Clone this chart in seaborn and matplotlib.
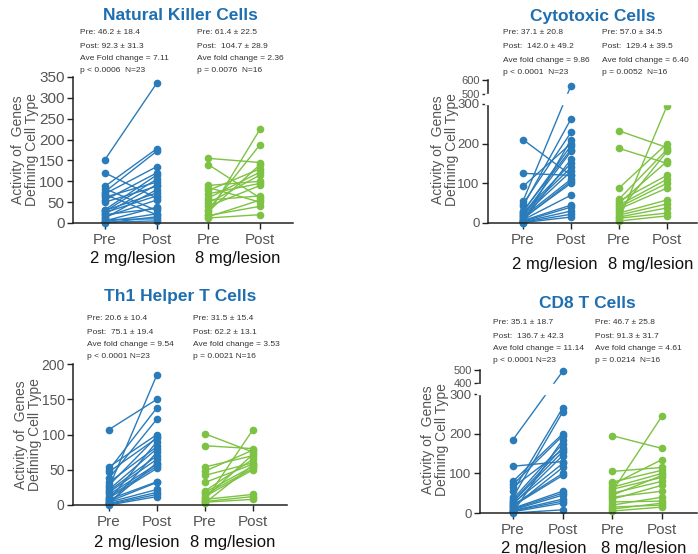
import numpy as np
import pandas as pd
import seaborn as sns
import matplotlib.pyplot as plt

sns.set_theme(style="white")
plt.rcParams['font.family'] = ['Liberation Sans', 'DejaVu Sans']

W, H = 698, 554
BLUE = "#2a7bba"
GREEN = "#7dc242"
TITLE_BLUE = "#1f6fb0"

# ---- data, 2 mg/lesion N=23, 8 mg/lesion N=16 ----
nk_pre2 = [152, 120, 88, 82, 75, 70, 68, 62, 55, 50, 32, 30, 28, 25, 22, 20, 15, 12, 8, 5, 3, 2, 0]
nk_post2 = [335, 60, 178, 30, 172, 135, 20, 98, 120, 88, 115, 72, 105, 65, 92, 35, 55, 80, 10, 38, 22, 5, 15]
nk_pre8 = [155, 140, 90, 85, 78, 70, 60, 55, 48, 40, 32, 28, 22, 18, 15, 12]
nk_post8 = [145, 60, 100, 50, 130, 95, 122, 65, 115, 90, 188, 140, 225, 40, 55, 20]

cy_pre2 = [210, 125, 92, 48, 42, 55, 30, 28, 25, 22, 20, 18, 15, 12, 10, 8, 6, 5, 4, 3, 2, 1, 0]
cy_post2 = [120, 120, 200, 228, 262, 560, 185, 195, 150, 140, 180, 130, 110, 100, 105, 70, 45, 160, 40, 30, 22, 15, 210]
cy_pre8 = [232, 188, 88, 60, 55, 50, 45, 40, 35, 30, 25, 20, 15, 12, 8, 5]
cy_post8 = [190, 150, 200, 185, 120, 155, 110, 100, 88, 180, 58, 48, 38, 25, 295, 18]

th_pre2 = [107, 54, 50, 47, 38, 32, 28, 25, 22, 20, 18, 15, 12, 10, 8, 7, 5, 4, 3, 2, 1, 1, 0]
th_post2 = [150, 100, 138, 95, 122, 83, 97, 185, 80, 70, 65, 58, 55, 52, 33, 90, 32, 22, 60, 18, 75, 15, 12]
th_pre8 = [101, 84, 54, 48, 42, 32, 20, 18, 15, 12, 10, 8, 6, 5, 4, 3]
th_post8 = [75, 80, 70, 78, 60, 58, 65, 55, 52, 50, 72, 15, 107, 12, 8, 57]

cd_pre2 = [185, 118, 80, 72, 65, 55, 40, 35, 30, 28, 25, 22, 20, 18, 15, 12, 10, 8, 6, 5, 3, 2, 0]
cd_post2 = [490, 130, 200, 195, 160, 265, 255, 175, 165, 155, 125, 145, 100, 95, 115, 55, 50, 45, 35, 30, 25, 185, 8]
cd_pre8 = [195, 105, 78, 72, 65, 60, 55, 50, 45, 40, 35, 28, 20, 15, 10, 5]
cd_post8 = [163, 115, 108, 135, 100, 90, 245, 80, 95, 55, 70, 30, 40, 20, 25, 15]

tick_labels = ["Pre", "Post", "Pre", "Post"]
dose_labels = ["2 mg/lesion", "8 mg/lesion"]

stats = {
    "nk": (["Pre: 46.2 ± 18.4", "Post: 92.3 ± 31.3", "Ave Fold change = 7.11", "p < 0.0006  N=23"],
           ["Pre: 61.4 ± 22.5", "Post:  104.7 ± 28.9", "Ave fold change = 2.36", "p = 0.0076  N=16"]),
    "cy": (["Pre: 37.1 ± 20.8", "Post:  142.0 ± 49.2", "Ave fold change = 9.86", "p < 0.0001  N=23"],
           ["Pre: 57.0 ± 34.5", "Post:  129.4 ± 39.5", "Ave fold change = 6.40", "p = 0.0052  N=16"]),
    "th": (["Pre: 20.6 ± 10.4", "Post:  75.1 ± 19.4", "Ave fold change = 9.54", "p < 0.0001 N=23"],
           ["Pre: 31.5 ± 15.4", "Post: 62.2 ± 13.1", "Ave fold change = 3.53", "p = 0.0021 N=16"]),
    "cd": (["Pre: 35.1 ± 18.7", "Post:  136.7 ± 42.3", "Ave fold change = 11.14", "p < 0.0001 N=23"],
           ["Pre: 46.7 ± 25.8", "Post: 91.3 ± 31.7", "Ave fold change = 4.61", "p = 0.0214  N=16"]),
}


def long_df(pre2, post2, pre8, post8):
    rows = []
    for i, (a, b) in enumerate(zip(pre2, post2)):
        rows += [(0, a, f"a{i}", "2"), (1, b, f"a{i}", "2")]
    for i, (a, b) in enumerate(zip(pre8, post8)):
        rows += [(2, a, f"b{i}", "8"), (3, b, f"b{i}", "8")]
    return pd.DataFrame(rows, columns=["pos", "value", "subject", "dose"])


def broken_scale(lo, hi, gap, k):
    def fwd(y):
        y = np.asarray(y, dtype=float)
        return np.where(y <= lo, y,
                        np.where(y <= hi, lo + (y - lo) * gap / (hi - lo),
                                 lo + gap + (y - hi) * k))

    def inv(f):
        f = np.asarray(f, dtype=float)
        return np.where(f <= lo, f,
                        np.where(f <= lo + gap, lo + (f - lo) * (hi - lo) / gap,
                                 hi + (f - lo - gap) / k))
    return fwd, inv


fig = plt.figure(figsize=(W / 100, H / 100), dpi=100)


def px(x, y):
    return x / W, 1 - y / H


panels = [
    dict(key="nk", data=(nk_pre2, nk_post2, nk_pre8, nk_post8), box=(73, 293, 223, 77),
         p0=105, s=51.7, ytop=350, yticks=[0, 50, 100, 150, 200, 250, 300, 350], brk=None,
         ysize=11, title="Natural Killer Cells", tpos=(180, 16), sx=(80, 197), sy=(33, 46, 59, 71),
         glab_y=258, glab_x=(133, 238), ylab=(25, 150)),
    dict(key="cy", data=(cy_pre2, cy_post2, cy_pre8, cy_post8), box=(488, 697, 223, 80),
         p0=523, s=48, ytop=600, yticks=[0, 100, 200, 300, 500, 600], brk=(300, 500, 25, 0.35),
         ysize=9.5, title="Cytotoxic Cells", tpos=(593, 16), sx=(503, 602), sy=(33, 47, 61, 73),
         glab_y=264, glab_x=(555, 651), ylab=(445, 150)),
    dict(key="th", data=(th_pre2, th_post2, th_pre8, th_post8), box=(73, 287, 505, 364),
         p0=109, s=48, ytop=200, yticks=[0, 50, 100, 150, 200], brk=None,
         ysize=10, title="Th1 Helper T Cells", tpos=(180, 297), sx=(87, 193), sy=(318, 332, 344, 356),
         glab_y=542, glab_x=(137, 233), ylab=(28, 435)),
    dict(key="cd", data=(cd_pre2, cd_post2, cd_pre8, cd_post8), box=(480, 697, 513, 370),
         p0=513, s=49.7, ytop=500, yticks=[0, 100, 200, 300, 400, 500], brk=(300, 400, 28, 0.33),
         ysize=9.5, title="CD8 T Cells", tpos=(587, 303), sx=(493, 595), sy=(323, 337, 349, 361),
         glab_y=548, glab_x=(544, 644), ylab=(435, 440)),
]

for p in panels:
    l, r, b, t = p["box"]
    ax = fig.add_axes([l / W, 1 - b / H, (r - l) / W, (b - t) / H])
    df = long_df(*p["data"])
    sns.lineplot(data=df, x="pos", y="value", units="subject", estimator=None,
                 hue="dose", palette={"2": BLUE, "8": GREEN}, marker="o",
                 markersize=5.5, markeredgewidth=0, linewidth=1.0, legend=False,
                 ax=ax, sort=False)
    for ln in ax.lines:
        ln.set_clip_on(False)

    if p["brk"] is not None:
        lo, hi, gap, k = p["brk"]
        ax.set_yscale("function", functions=broken_scale(lo, hi, gap, k))
        # white band hides the line parts and the spine inside the axis break
        ax.axhspan(lo + 3, hi - (hi - lo) * 0.04, xmin=-0.015, xmax=1.0,
                   color="white", zorder=3, clip_on=False)

    ax.set_ylim(0, p["ytop"])
    ax.set_xlim((l - p["p0"]) / p["s"], (r - p["p0"]) / p["s"])
    ax.set_yticks(p["yticks"])
    ax.yaxis.set_minor_locator(plt.NullLocator())
    ax.set_xticks([0, 1, 2, 3])
    ax.set_xticklabels(tick_labels)
    ax.set_xlabel("")
    ax.set_ylabel("")
    sns.despine(ax=ax)
    for sp in ("left", "bottom"):
        ax.spines[sp].set_color("#222222")
        ax.spines[sp].set_linewidth(1.1)
    ax.tick_params(axis="both", direction="out", length=4, width=1.0, color="#222222",
                   labelcolor="#555555", pad=2, left=True, bottom=True)
    ax.tick_params(axis="y", labelsize=p["ysize"])
    ax.tick_params(axis="x", labelsize=11, pad=3)
    if p["brk"] is not None:
        for lab in ax.get_yticklabels()[-2:]:
            lab.set_fontsize(8)
    ax.patch.set_alpha(0)

    fig.text(*px(*p["tpos"]), p["title"], color=TITLE_BLUE, fontsize=12.5,
             fontweight="bold", ha="center", va="center")
    for gi in range(2):
        for line, yy in zip(stats[p["key"]][gi], p["sy"]):
            fig.text(*px(p["sx"][gi], yy), line, fontsize=6, color="#333333",
                     ha="left", va="center")
        fig.text(*px(p["glab_x"][gi], p["glab_y"]), dose_labels[gi], fontsize=12,
                 color="#111111", ha="center", va="center")
    fig.text(*px(*p["ylab"]), "Activity of  Genes\nDefining Cell Type", rotation=90,
             fontsize=10, color="#555555", ha="center", va="center",
             multialignment="center", linespacing=1.05)

fig.savefig("out.png", dpi=100)
